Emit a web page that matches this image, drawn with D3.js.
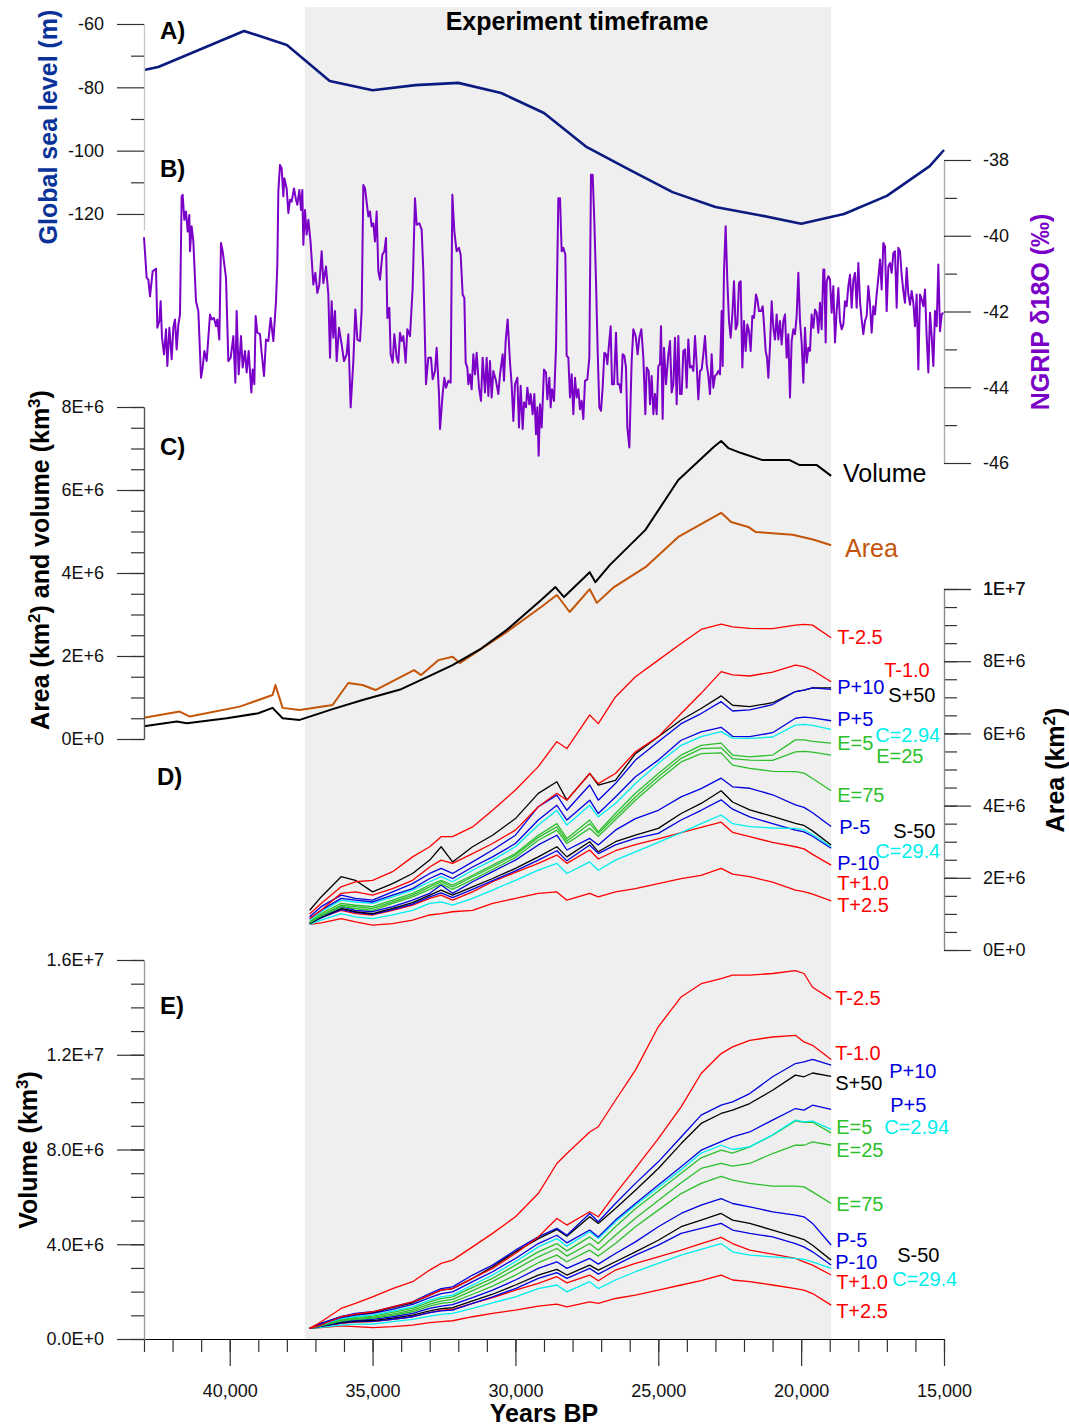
<!DOCTYPE html>
<html>
<head>
<meta charset="utf-8">
<script src="https://cdn.jsdelivr.net/npm/d3@7"></script>
<style>
body { margin: 0; background: #fff; }
svg text { font-family: "Liberation Sans", Arial, sans-serif; }
</style>
</head>
<body>
<div id="chart"></div>
<script>
var width = 1069;
var height = 1427;

// experiment timeframe (years BP)
var expStart = 37370;
var expEnd = 18950;

// A) global sea level (m)
var seaYears = [43000, 42500, 39500, 38000, 36500, 35000, 33500, 32000, 30500, 29000, 27500, 26000, 24500, 23000, 21500, 20000, 18500, 17000, 15500, 15000];
var seaVals = [-74.5, -73.6, -62.2, -66.6, -78.0, -80.9, -79.3, -78.6, -81.8, -88.1, -98.9, -106.1, -113.1, -117.8, -120.3, -123.1, -120.0, -114.3, -104.9, -99.8];

// B) NGRIP d18O (permil)
var ngripYears = [43000,42907,42848,42790,42697,42615,42580,42533,42463,42417,42370,42300,42230,42183,42113,42032,41973,41915,41857,41798,
41740,41682,41647,41588,41530,41472,41413,41390,41332,41273,41180,41098,41005,40947,40888,40807,40690,40632,40550,40480,
40433,40363,40305,40247,40130,40048,39967,39873,39803,39757,39687,39605,39547,39465,39407,39337,39243,39197,39138,39092,
39033,38940,38882,38800,38730,38648,38567,38473,38380,38333,38298,38240,38182,38123,38088,38007,37948,37890,37832,37750,
37680,37633,37563,37505,37458,37423,37365,37307,37248,37167,37073,37003,36933,36863,36782,36723,36630,36548,36490,36432,
36373,36315,36257,36175,36082,36000,35907,35848,35767,35673,35603,35533,35440,35382,35323,35265,35148,35090,35032,34973,
34915,34857,34798,34740,34658,34588,34530,34483,34413,34367,34297,34238,34157,34098,34040,33982,33923,33842,33783,33690,
33597,33515,33457,33363,33282,33223,33130,33048,32955,32897,32815,32757,32675,32640,32547,32488,32430,32348,32267,32208,
32138,32057,31975,31917,31847,31788,31742,31683,31648,31590,31532,31473,31415,31357,31275,31205,31147,31065,31007,30948,
30890,30832,30773,30680,30598,30540,30447,30400,30342,30272,30190,30132,30073,30015,29933,29875,29817,29747,29700,29630,
29583,29513,29467,29397,29338,29280,29233,29187,29140,29082,
29000,28930,28883,28813,28767,28720,28650,28580,28498,28440,28382,28323,28253,28207,28148,28090,28032,27973,27915,27857,
27798,27740,27682,27623,27565,27483,27413,27355,27297,27238,27180,27122,27063,27005,26947,26888,26830,26783,26725,26667,
26620,26550,26480,26422,26363,26305,26247,26188,26130,26083,26013,25932,25873,25792,25722,25663,25593,25523,25453,25407,
25337,25290,25232,25173,25115,25057,24998,24940,24905,24847,24800,24730,24648,24590,24532,24473,24415,24357,24298,24240,
24182,24123,24065,24007,23948,23890,23832,23773,23715,23657,23598,23540,23482,23423,23365,23307,23248,23190,23132,23073,
23015,22957,22898,22840,22782,22747,22700,22642,22583,22525,22467,22408,22350,22292,22233,22175,22117,22058,22000,21942,
21883,21825,21767,21708,21650,21580,21533,21475,21405,21347,21300,21242,21195,21148,21090,21032,20973,20915,20857,20798,
20740,20682,20623,20565,20507,20448,20390,20332,20273,20215,20157,20098,20040,19982,19923,19865,19807,19748,19690,19632,
19573,19515,19457,19398,19340,19282,19223,19188,19142,19107,19048,18990,18932,18873,18815,18757,18698,18640,18582,18523,
18465,18407,18348,18290,18232,18173,18115,18057,17998,17940,17882,17823,17765,17707,17648,17590,17532,17473,17415,17357,
17298,17240,17182,17123,17065,17007,16948,16890,16832,16773,16715,16657,16598,16540,16482,16423,16365,16307,16248,16190,
16132,16073,16015,15957,15898,15840,15782,15723,15665,15607,15548,15490,15432,15373,15315,15257,15198,15140,15082,15023];
var ngripVals = [-40.04,-41.11,-41.16,-41.60,-40.94,-40.89,-40.87,-42.43,-42.25,-41.73,-42.69,-43.13,-42.47,-43.44,-42.43,-43.26,-42.43,-42.21,-43.00,-42.34,
-42.08,-38.96,-38.92,-39.58,-39.36,-39.89,-39.45,-40.41,-39.75,-40.15,-41.73,-41.99,-43.75,-43.48,-43.04,-43.31,-42.08,-42.21,-42.17,-42.39,
-42.21,-42.74,-40.19,-40.41,-41.11,-43.31,-43.22,-42.65,-43.88,-41.99,-43.66,-42.65,-43.48,-43.04,-43.61,-43.04,-44.14,-43.53,-43.92,-42.12,
-42.56,-42.60,-43.09,-43.70,-42.74,-42.78,-42.17,-42.78,-41.73,-40.76,-38.83,-38.13,-38.22,-38.96,-38.48,-38.75,-39.40,-39.05,-39.10,-38.75,
-39.05,-39.18,-38.79,-39.32,-38.79,-40.24,-39.32,-39.97,-39.58,-40.19,-41.29,-40.98,-41.51,-41.29,-40.41,-41.25,-40.81,-41.55,-43.22,-41.73,
-42.69,-41.99,-43.31,-42.43,-42.87,-43.31,-43.13,-42.60,-44.53,-43.31,-41.95,-42.74,-42.78,-41.99,-38.66,-38.75,-39.49,-39.36,-39.75,-39.67,
-40.15,-39.36,-40.94,-41.16,-40.50,-40.41,-40.06,-42.17,-41.90,-43.13,-43.35,-42.60,-43.22,-43.35,-42.56,-42.78,-42.65,-43.35,-42.47,-42.65,
-41.38,-39.01,-39.71,-39.67,-39.84,-40.94,-43.92,-43.22,-43.22,-43.79,-43.57,-42.96,-44.18,-45.10,-44.18,-43.75,-44.01,-43.83,-43.88,-38.92,
-39.89,-40.41,-40.32,-40.50,-41.55,-41.64,-43.35,-43.48,-43.92,-43.66,-44.05,-43.13,-43.66,-43.09,-44.01,-44.36,-43.22,-44.14,-43.22,-44.23,
-43.31,-44.27,-43.57,-43.83,-44.18,-43.66,-43.13,-43.83,-42.78,-42.21,-43.35,-43.92,-44.89,-43.92,-43.75,-45.06,-43.96,-45.10,-44.40,-44.53,
-44.01,-44.45,-44.18,-44.71,-44.18,-45.24,-44.53,-45.81,-44.45,-45.06,
-43.53,-43.61,-44.32,-43.75,-44.53,-44.05,-44.36,-42.96,-39.01,-39.01,-40.41,-40.32,-40.50,-43.17,-43.22,-44.27,-43.66,-44.71,-43.75,-44.27,
-44.05,-44.58,-44.36,-44.84,-43.83,-43.79,-43.22,-38.39,-38.39,-39.62,-41.20,-43.04,-44.53,-44.62,-44.01,-43.09,-43.13,-43.39,-42.87,-42.39,
-43.92,-43.92,-42.56,-43.92,-43.92,-44.14,-43.13,-43.17,-43.48,-45.06,-45.59,-43.31,-42.47,-42.65,-43.13,-42.69,-42.47,-43.22,-44.71,-43.48,
-43.57,-44.45,-43.70,-44.71,-44.18,-44.71,-43.44,-43.39,-42.39,-44.84,-42.96,-43.92,-43.13,-42.78,-44.14,-43.92,-42.69,-44.45,-42.65,-44.18,
-44.18,-43.04,-43.00,-44.01,-42.74,-43.48,-43.44,-43.57,-42.65,-43.39,-44.32,-43.57,-43.53,-43.13,-42.65,-43.39,-43.70,-44.18,-43.13,-44.01,
-43.70,-43.66,-43.57,-43.66,-41.99,-43.44,-40.94,-39.75,-41.20,-42.25,-42.69,-42.08,-41.20,-42.47,-42.34,-41.25,-41.20,-43.48,-42.25,-43.04,
-42.34,-42.52,-43.04,-42.12,-42.17,-41.55,-41.68,-41.99,-41.99,-41.86,-42.34,-43.04,-43.22,-43.75,-42.91,-41.73,-42.43,-42.74,-42.08,-42.74,
-42.25,-42.87,-42.25,-42.08,-43.22,-42.60,-44.27,-42.78,-42.47,-42.60,-42.12,-40.98,-42.25,-42.82,-43.88,-42.43,-43.35,-42.96,-43.04,-42.08,
-42.43,-41.95,-42.03,-42.56,-41.77,-42.47,-40.89,-40.89,-42.82,-41.20,-41.07,-41.16,-42.03,-41.33,-42.82,-41.99,-41.38,-42.25,-42.47,-42.34,
-41.73,-41.86,-41.33,-41.03,-41.90,-41.16,-40.98,-41.90,-40.72,-41.73,-42.21,-42.60,-42.25,-42.12,-41.33,-41.82,-42.56,-41.86,-42.08,-41.55,
-41.11,-40.63,-41.42,-40.19,-40.28,-41.99,-40.81,-40.72,-40.98,-40.46,-40.41,-41.90,-40.32,-40.41,-41.03,-41.46,-41.77,-40.85,-41.55,-41.82,
-41.46,-41.77,-42.39,-41.55,-43.53,-41.55,-41.68,-41.86,-41.42,-42.65,-43.61,-42.03,-42.65,-43.44,-41.99,-42.39,-40.76,-42.52,-42.08,-42.03];

// C) control run: volume (km3) and area (km2), millions
var volYears = [43000, 41850, 41500, 40100, 39000, 38500, 38150, 37550, 36400, 35350, 34000, 33000, 32200, 31200, 30300, 29100, 28600, 28300, 27400, 27200, 26700, 25450, 24300, 23050, 22800, 22550, 22100, 21350, 20400, 20050, 19450, 18950];
var volVals = [0.31, 0.42, 0.38, 0.50, 0.62, 0.75, 0.50, 0.46, 0.72, 0.94, 1.20, 1.52, 1.78, 2.18, 2.63, 3.35, 3.66, 3.42, 4.02, 3.78, 4.19, 5.04, 6.24, 7.04, 7.18, 7.01, 6.89, 6.72, 6.72, 6.60, 6.60, 6.34];
var areaYears = [43000, 41750, 41400, 39650, 38500, 38400, 38150, 37550, 36400, 35850, 35350, 34900, 33550, 33300, 32700, 32200, 31950, 30300, 29100, 28550, 28100, 27400, 27150, 26550, 25450, 24300, 22800, 22450, 21850, 21600, 20300, 19550, 18950];
var areaVals = [0.51, 0.66, 0.54, 0.78, 1.06, 1.30, 0.75, 0.70, 0.82, 1.35, 1.30, 1.18, 1.66, 1.54, 1.90, 1.98, 1.83, 2.58, 3.18, 3.47, 3.06, 3.61, 3.28, 3.66, 4.14, 4.87, 5.45, 5.23, 5.11, 4.99, 4.92, 4.80, 4.67];

// D/E) sensitivity runs, shared time axis
var runYears = [37200, 36800, 36100, 35600, 35000, 34300, 33600, 33000, 32600, 32200, 31500, 30800, 30000, 29200, 28550, 28200, 27400, 27100, 26500, 25800, 25000, 24200, 23500, 22800, 22400, 21800, 21000, 20200, 19900, 19600, 18950];

// D) area, millions km2
var areaTm25 = [1.00, 1.29, 1.75, 1.89, 1.93, 2.17, 2.58, 2.86, 3.14, 3.14, 3.41, 3.87, 4.43, 5.08, 5.77, 5.58, 6.51, 6.27, 7.01, 7.57, 8.03, 8.49, 8.88, 9.03, 8.95, 8.91, 8.90, 9.00, 9.02, 9.00, 8.65];
var areaTm10 = [0.87, 1.10, 1.57, 1.61, 1.52, 1.70, 1.93, 2.30, 2.49, 2.40, 2.67, 2.95, 3.32, 3.97, 4.34, 4.15, 4.89, 4.61, 4.89, 5.49, 5.91, 6.55, 7.11, 7.71, 7.62, 7.59, 7.70, 7.89, 7.85, 7.75, 7.43];
var areaPp10 = [0.92, 1.20, 1.52, 1.43, 1.38, 1.61, 1.84, 2.12, 2.26, 2.12, 2.44, 2.77, 3.18, 3.97, 4.29, 3.87, 4.57, 4.15, 4.61, 5.26, 5.77, 6.27, 6.55, 6.88, 6.62, 6.65, 6.80, 7.16, 7.20, 7.26, 7.22];
var areaSp50 = [1.10, 1.47, 2.03, 1.93, 1.61, 1.84, 2.12, 2.49, 2.86, 2.44, 2.86, 3.18, 3.64, 4.34, 4.66, 4.15, 4.89, 4.57, 4.70, 5.44, 5.91, 6.37, 6.69, 7.04, 6.78, 6.74, 6.85, 7.16, 7.20, 7.26, 7.26];
var areaPp5 = [0.87, 1.10, 1.43, 1.38, 1.33, 1.52, 1.70, 1.98, 2.12, 1.98, 2.30, 2.58, 2.95, 3.60, 4.01, 3.60, 4.15, 3.78, 4.24, 4.80, 5.26, 5.81, 6.04, 6.17, 5.92, 5.91, 6.02, 6.42, 6.45, 6.43, 6.35];
var areaC2_94 = [0.83, 1.06, 1.38, 1.33, 1.29, 1.47, 1.66, 1.89, 2.03, 1.89, 2.21, 2.49, 2.86, 3.46, 3.87, 3.46, 4.01, 3.69, 4.06, 4.61, 5.17, 5.67, 5.91, 6.05, 5.87, 5.86, 5.90, 6.23, 6.25, 6.22, 6.11];
var areaE5 = [0.78, 1.01, 1.29, 1.24, 1.20, 1.38, 1.57, 1.80, 1.93, 1.80, 2.07, 2.35, 2.67, 3.18, 3.50, 3.09, 3.60, 3.27, 3.78, 4.34, 4.89, 5.40, 5.67, 5.73, 5.40, 5.35, 5.40, 5.82, 5.82, 5.78, 5.73];
var areaE25 = [0.76, 0.97, 1.24, 1.20, 1.15, 1.33, 1.52, 1.75, 1.89, 1.75, 2.03, 2.30, 2.63, 3.12, 3.41, 3.02, 3.50, 3.23, 3.69, 4.24, 4.80, 5.31, 5.58, 5.60, 5.30, 5.26, 5.25, 5.49, 5.50, 5.48, 5.40];
var areaE75 = [0.75, 0.94, 1.20, 1.15, 1.10, 1.29, 1.47, 1.68, 1.83, 1.68, 1.95, 2.23, 2.56, 3.04, 3.32, 2.95, 3.37, 3.15, 3.61, 4.15, 4.70, 5.21, 5.44, 5.46, 5.12, 5.03, 4.95, 4.94, 4.90, 4.75, 4.41];
var areaPm5 = [0.75, 0.92, 1.20, 1.10, 1.06, 1.20, 1.38, 1.57, 1.80, 1.57, 1.89, 2.17, 2.49, 2.91, 3.18, 2.77, 3.09, 2.91, 3.32, 3.64, 3.87, 4.24, 4.47, 4.76, 4.52, 4.48, 4.30, 4.02, 3.95, 3.80, 3.42];
var areaSm50 = [0.73, 0.90, 1.15, 1.06, 1.01, 1.15, 1.31, 1.52, 1.66, 1.52, 1.75, 1.98, 2.26, 2.58, 2.86, 2.58, 3.00, 2.72, 3.00, 3.18, 3.37, 3.78, 4.06, 4.41, 4.10, 3.88, 3.70, 3.51, 3.45, 3.30, 2.91];
var areaC29_4 = [0.71, 0.83, 1.01, 0.92, 0.87, 0.97, 1.10, 1.29, 1.33, 1.24, 1.43, 1.66, 1.93, 2.21, 2.40, 2.12, 2.44, 2.21, 2.49, 2.72, 2.98, 3.25, 3.50, 3.74, 3.50, 3.42, 3.38, 3.37, 3.33, 3.20, 2.86];
var areaPm10 = [0.73, 0.89, 1.12, 1.04, 0.99, 1.12, 1.27, 1.47, 1.58, 1.45, 1.68, 1.92, 2.19, 2.49, 2.75, 2.47, 2.91, 2.67, 2.91, 3.09, 3.23, 3.60, 3.87, 4.16, 3.90, 3.69, 3.50, 3.32, 3.27, 3.15, 2.82];
var areaTp10 = [0.75, 0.90, 1.10, 1.01, 0.97, 1.10, 1.24, 1.43, 1.52, 1.38, 1.61, 1.89, 2.15, 2.40, 2.63, 2.40, 2.77, 2.52, 2.75, 2.92, 3.08, 3.25, 3.40, 3.54, 3.26, 3.14, 2.98, 2.86, 2.80, 2.65, 2.35];
var areaTp25 = [0.71, 0.75, 0.87, 0.78, 0.69, 0.73, 0.83, 0.97, 1.01, 1.06, 1.10, 1.29, 1.43, 1.57, 1.61, 1.38, 1.57, 1.47, 1.61, 1.70, 1.84, 1.98, 2.07, 2.26, 2.10, 2.03, 1.88, 1.66, 1.62, 1.55, 1.36];

// E) volume, millions km3
var volTm25 = [0.45, 0.73, 1.29, 1.50, 1.78, 2.13, 2.42, 2.91, 3.19, 3.33, 3.89, 4.46, 5.16, 6.14, 7.41, 7.83, 8.74, 8.96, 10.08, 11.35, 13.18, 14.44, 15.00, 15.21, 15.36, 15.36, 15.43, 15.55, 15.43, 14.85, 14.35];
var volTm10 = [0.45, 0.59, 0.94, 1.05, 1.15, 1.36, 1.57, 1.85, 2.06, 2.13, 2.56, 2.98, 3.61, 4.31, 5.09, 4.81, 5.37, 5.16, 6.14, 7.20, 8.46, 9.80, 11.21, 12.05, 12.33, 12.61, 12.75, 12.82, 12.54, 12.40, 11.80];
var volPp10 = [0.45, 0.66, 0.94, 1.08, 1.15, 1.36, 1.57, 1.92, 2.13, 2.20, 2.70, 3.12, 3.75, 4.31, 4.67, 4.38, 5.30, 4.95, 5.72, 6.57, 7.48, 8.53, 9.45, 9.87, 10.01, 10.36, 11.07, 11.63, 11.70, 11.80, 11.56];
var volSp50 = [0.45, 0.66, 0.94, 1.05, 1.11, 1.33, 1.53, 1.85, 2.06, 2.13, 2.56, 3.05, 3.68, 4.24, 4.62, 4.34, 5.16, 4.88, 5.51, 6.28, 7.20, 8.25, 9.10, 9.52, 9.66, 9.94, 10.50, 11.14, 11.07, 11.23, 11.09];
var volPp5 = [0.45, 0.63, 0.90, 1.01, 1.08, 1.25, 1.46, 1.75, 1.92, 1.99, 2.42, 2.84, 3.40, 4.03, 4.38, 4.06, 4.60, 4.31, 5.02, 5.72, 6.50, 7.27, 7.97, 8.33, 8.53, 8.74, 9.24, 9.73, 9.66, 9.87, 9.69];
var volC2_94 = [0.45, 0.60, 0.86, 0.95, 1.01, 1.18, 1.36, 1.64, 1.78, 1.85, 2.28, 2.70, 3.26, 3.89, 4.24, 3.92, 4.53, 4.24, 4.95, 5.65, 6.40, 7.15, 7.85, 8.18, 8.00, 8.11, 8.62, 9.24, 9.17, 9.20, 8.85];
var volE5 = [0.45, 0.59, 0.83, 0.91, 0.97, 1.12, 1.29, 1.57, 1.70, 1.78, 2.18, 2.56, 3.12, 3.68, 4.03, 3.72, 4.31, 4.03, 4.74, 5.50, 6.25, 7.00, 7.65, 7.97, 7.85, 8.11, 8.60, 9.21, 9.15, 9.15, 8.70];
var volE25 = [0.45, 0.57, 0.80, 0.87, 0.91, 1.05, 1.22, 1.47, 1.60, 1.67, 2.04, 2.42, 2.94, 3.47, 3.82, 3.50, 4.03, 3.75, 4.38, 5.10, 5.85, 6.60, 7.20, 7.41, 7.30, 7.41, 7.83, 8.18, 8.18, 8.32, 8.18];
var volE75 = [0.45, 0.56, 0.76, 0.83, 0.87, 1.00, 1.15, 1.39, 1.50, 1.56, 1.89, 2.23, 2.70, 3.22, 3.54, 3.26, 3.75, 3.50, 4.03, 4.74, 5.44, 6.14, 6.57, 6.87, 6.71, 6.57, 6.45, 6.45, 6.42, 6.21, 5.72];
var volPm5 = [0.45, 0.54, 0.73, 0.80, 0.83, 0.94, 1.08, 1.29, 1.39, 1.45, 1.75, 2.06, 2.49, 2.98, 3.26, 2.98, 3.40, 3.16, 3.61, 4.10, 4.74, 5.30, 5.65, 5.93, 5.72, 5.58, 5.37, 5.23, 5.16, 4.88, 3.97];
var volSm50 = [0.45, 0.53, 0.70, 0.76, 0.78, 0.88, 1.01, 1.19, 1.28, 1.32, 1.61, 1.89, 2.28, 2.70, 2.94, 2.70, 3.12, 2.91, 3.26, 3.68, 4.17, 4.74, 5.02, 5.30, 5.02, 4.88, 4.60, 4.31, 4.20, 3.96, 3.33];
var volC29_4 = [0.45, 0.49, 0.59, 0.63, 0.63, 0.73, 0.83, 0.97, 1.04, 1.08, 1.29, 1.53, 1.78, 2.13, 2.28, 1.99, 2.42, 2.13, 2.49, 2.84, 3.19, 3.54, 3.78, 4.03, 3.68, 3.54, 3.47, 3.40, 3.36, 3.26, 2.98];
var volPm10 = [0.45, 0.52, 0.67, 0.73, 0.74, 0.83, 0.94, 1.11, 1.19, 1.22, 1.50, 1.78, 2.13, 2.56, 2.80, 2.56, 2.98, 2.74, 3.12, 3.54, 3.96, 4.46, 4.67, 4.88, 4.60, 4.46, 4.31, 4.03, 3.89, 3.68, 3.12];
var volTp10 = [0.45, 0.52, 0.66, 0.71, 0.73, 0.83, 0.94, 1.11, 1.22, 1.25, 1.50, 1.75, 2.06, 2.35, 2.63, 2.37, 2.70, 2.46, 2.91, 3.19, 3.47, 3.75, 4.03, 4.29, 4.03, 3.75, 3.58, 3.40, 3.26, 3.12, 2.70];
var volTp25 = [0.45, 0.48, 0.55, 0.52, 0.48, 0.52, 0.59, 0.69, 0.73, 0.77, 0.94, 1.08, 1.22, 1.39, 1.47, 1.36, 1.57, 1.50, 1.71, 1.85, 2.06, 2.28, 2.46, 2.70, 2.49, 2.42, 2.28, 2.13, 2.06, 1.92, 1.43];

// tick labels
var yearTicks = [40000, 35000, 30000, 25000, 20000, 15000];

// colours
var red = "#ff0000", blue = "#0000e0", black = "#000000", cyan = "#00eeee", green = "#2dbf2d";

// run table (label offsets: px from the line end, panel D then E)
var runs = [
    { name: "T-2.5", color: red, area: areaTm25, vol: volTm25, d: [6, -1], e: [4, -1] },
    { name: "T-1.0", color: red, area: areaTm10, vol: volTm10, d: [53, -12], e: [4, -6] },
    { name: "P+10", color: blue, area: areaPp10, vol: volPp10, d: [6, -2], e: [58, 6] },
    { name: "S+50", color: black, area: areaSp50, vol: volSp50, d: [57, 7], e: [4, 7] },
    { name: "P+5", color: blue, area: areaPp5, vol: volPp5, d: [6, -2], e: [59, -4] },
    { name: "C=2.94", color: cyan, area: areaC2_94, vol: volC2_94, d: [44, 6], e: [53, -2] },
    { name: "E=5", color: green, area: areaE5, vol: volE5, d: [6, 0], e: [5, -6] },
    { name: "E=25", color: green, area: areaE25, vol: volE25, d: [45, 1], e: [5, 5] },
    { name: "E=75", color: green, area: areaE75, vol: volE75, d: [6, 4], e: [5, 0] },
    { name: "P-5", color: blue, area: areaPm5, vol: volPm5, d: [8, 0], e: [5, -5] },
    { name: "S-50", color: black, area: areaSm50, vol: volSm50, d: [62, -14], e: [66, -5] },
    { name: "C=29.4", color: cyan, area: areaC29_4, vol: volC29_4, d: [44, 4], e: [61, 11] },
    { name: "P-10", color: blue, area: areaPm10, vol: volPm10, d: [6, 15], e: [4, -3] },
    { name: "T+1.0", color: red, area: areaTp10, vol: volTp10, d: [6, 18], e: [5, 7] },
    { name: "T+2.5", color: red, area: areaTp25, vol: volTp25, d: [6, 4], e: [5, 6] }
];

var svg = d3.select("#chart").append("svg")
    .attr("width", width)
    .attr("height", height);

var x = d3.scaleLinear().domain([43000, 15000]).range([144, 944]);
var ySea = d3.scaleLinear().domain([-125, -60]).range([229.8, 24]);
var yNg = d3.scaleLinear().domain([-46, -38]).range([463, 160]);
var yC = d3.scaleLinear().domain([0, 8e6]).range([739, 407]);
var yD = d3.scaleLinear().domain([0, 1e7]).range([950, 589]);
var yE = d3.scaleLinear().domain([0, 1.6e7]).range([1339, 960]);

// shaded experiment window
svg.append("rect")
    .attr("x", x(expStart))
    .attr("y", 7)
    .attr("width", x(expEnd) - x(expStart))
    .attr("height", 1339 - 7)
    .attr("fill", "#efefef");

function series(xs, ys, yScale, mult) {
    var pts = d3.zip(xs, ys);
    return d3.line()
        .x(function (d) { return x(d[0]); })
        .y(function (d) { return yScale(d[1] * mult); })(pts);
}

function path(d, color, w) {
    svg.append("path")
        .attr("d", d)
        .attr("fill", "none")
        .attr("stroke", color)
        .attr("stroke-width", w)
        .attr("stroke-linejoin", "round");
}

path(series(ngripYears, ngripVals, yNg, 1), "#7a00c8", 2);
path(series(seaYears, seaVals, ySea, 1), "#0a1a7e", 2.6);

path(series(areaYears, areaVals, yC, 1e6), "#c45508", 2);
path(series(volYears, volVals, yC, 1e6), "#000", 2);

// panels D and E
runs.slice().reverse().forEach(function (r) {
    path(series(runYears, r.area, yD, 1e6), r.color, 1.3);
    path(series(runYears, r.vol, yE, 1e6), r.color, 1.3);
});

var lastYear = runYears[runYears.length - 1];
runs.forEach(function (r) {
    var n = r.area.length - 1;
    svg.append("text")
        .attr("x", x(lastYear) + r.d[0])
        .attr("y", yD(r.area[n] * 1e6) + r.d[1])
        .attr("dy", "0.35em")
        .attr("font-size", "20px")
        .attr("fill", r.color)
        .text(r.name);
    svg.append("text")
        .attr("x", x(lastYear) + r.e[0])
        .attr("y", yE(r.vol[n] * 1e6) + r.e[1])
        .attr("dy", "0.35em")
        .attr("font-size", "20px")
        .attr("fill", r.color)
        .text(r.name);
});

// axes
function axis(fn, pos, scale, majors, minors, fmt, pad, domainColor) {
    var g = svg.append("g").attr("transform", pos);
    g.append("g").call(fn(scale).tickValues(minors).tickSize(13).tickSizeOuter(0).tickFormat(""));
    g.append("g").call(fn(scale).tickValues(majors).tickSize(27).tickSizeOuter(0).tickPadding(pad).tickFormat(fmt));
    g.selectAll(".domain").attr("stroke", domainColor).attr("stroke-width", 1.2);
    g.selectAll(".tick line").attr("stroke", "#333").attr("stroke-width", 1.2);
    g.selectAll("text")
        .attr("font-family", "Liberation Sans, Arial, sans-serif")
        .attr("font-size", "18px")
        .attr("fill", "#111");
    return g;
}

function expFmt(digits) {
    return function (d) { return d.toExponential(digits).toUpperCase(); };
}
function plain(d) { return String(d); }

axis(d3.axisBottom, "translate(0,1339)", x, yearTicks, d3.range(43000, 14999, -1000), d3.format(","), 18, "#000");
axis(d3.axisLeft, "translate(144,0)", ySea, [-60, -80, -100, -120], [-70, -90, -110], plain, 13, "#c8c8c8");
axis(d3.axisRight, "translate(944,0)", yNg, [-38, -40, -42, -44, -46], [-39, -41, -43, -45], plain, 12, "#aaa");
axis(d3.axisLeft, "translate(144,0)", yC, d3.range(0, 8.1e6, 2e6), d3.range(0, 8.1e6, 5e5), expFmt(0), 13, "#555");
axis(d3.axisRight, "translate(944,0)", yD, d3.range(0, 1.01e7, 2e6).concat([1e7]), d3.range(0, 1.01e7, 5e5), expFmt(0), 12, "#888");
axis(d3.axisLeft, "translate(144,0)", yE, d3.range(0, 1.61e7, 4e6), d3.range(0, 1.61e7, 1e6), expFmt(1), 13, "#999");

// text
function label(txt, xp, yp, size, weight, color) {
    return svg.append("text")
        .attr("x", xp).attr("y", yp)
        .attr("font-size", size + "px")
        .attr("font-weight", weight)
        .attr("fill", color)
        .text(txt);
}

label("A)", 160, 39, 24, "bold", "#000");
label("B)", 160, 177, 24, "bold", "#000");
label("C)", 160, 455, 24, "bold", "#000");
label("D)", 157, 785, 24, "bold", "#000");
label("E)", 160, 1014, 24, "bold", "#000");
label("Experiment timeframe", 577, 30, 25, "bold", "#000").attr("text-anchor", "middle");
label("Volume", 843, 482, 25, "normal", "#000");
label("Area", 845, 557, 25, "normal", "#c45508");
label("Years BP", 544, 1422, 25, "bold", "#000").attr("text-anchor", "middle");

function vTitle(cx, cy, color, parts) {
    var t = svg.append("text")
        .attr("transform", "translate(" + cx + "," + cy + ") rotate(-90)")
        .attr("text-anchor", "middle")
        .attr("font-size", "25px")
        .attr("font-weight", "bold")
        .attr("fill", color);
    parts.forEach(function (p) {
        if (p.sup) {
            t.append("tspan").attr("dy", -9).attr("font-size", "17px").text(p.sup);
        } else {
            t.append("tspan").attr("dy", p.back ? 9 : 0).text(p.t);
        }
    });
}

vTitle(57, 127, "#0a3399", [{ t: "Global sea level (m)" }]);
vTitle(49, 560, "#000", [{ t: "Area (km" }, { sup: "2" }, { t: ") and volume (km", back: true }, { sup: "3" }, { t: ")", back: true }]);
vTitle(37, 1150, "#000", [{ t: "Volume (km" }, { sup: "3" }, { t: ")", back: true }]);
vTitle(1049, 312, "#7a00c8", [{ t: "NGRIP \u03b418O (\u2030)" }]);
vTitle(1064, 770, "#000", [{ t: "Area (km" }, { sup: "2" }, { t: ")", back: true }]);
</script>
</body>
</html>
